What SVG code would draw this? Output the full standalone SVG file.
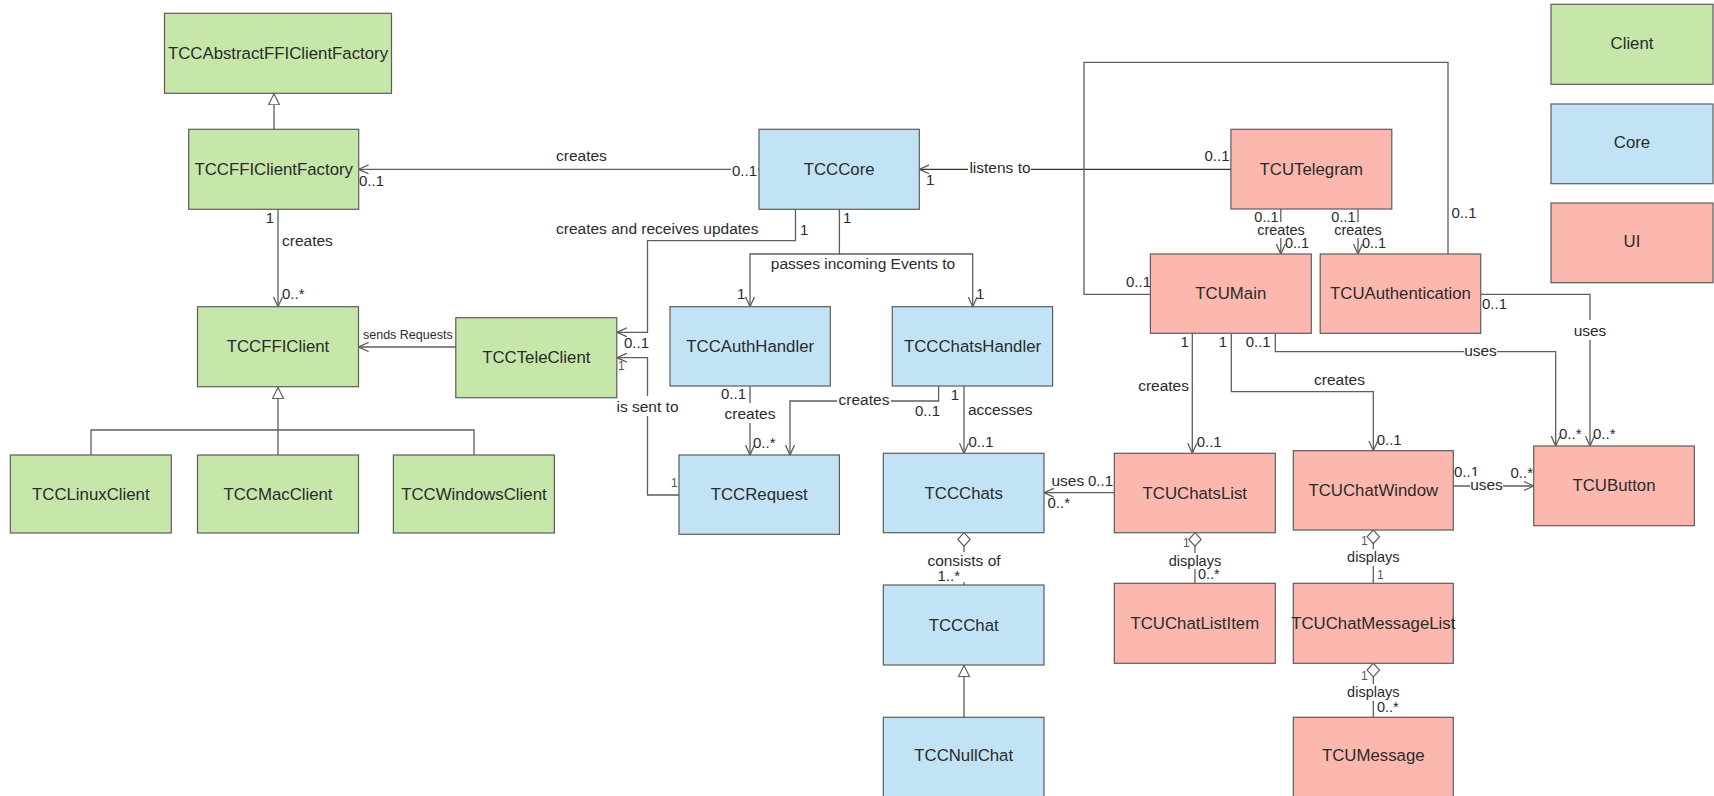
<svg xmlns="http://www.w3.org/2000/svg" width="1714" height="796" viewBox="0 0 1714 796">
  <style>
    text { font-family: "Liberation Sans", Arial, sans-serif; fill: #2b2b2b; dominant-baseline: central; }
    .box { stroke: #5c5c5c; stroke-width: 1.2; }
    .client { fill: #c6e6aa; }
    .core { fill: #c2e3f5; }
    .ui { fill: #fcb8ae; }
    .name { font-size: 16.8px; text-anchor: middle; }
    .lbl { font-size: 15.5px; }
    .mul { font-size: 15px; }
    .sm { font-size: 14.5px; }
    .xs { font-size: 12.5px; }
    .tiny { font-size: 12px; fill: #555; }
    .mid { text-anchor: middle; }
    .end { text-anchor: end; }
    .bg { fill: #ffffff; }
    .edge { fill: none; stroke: #5e5e5e; stroke-width: 1.3; }
    .dark { stroke: #333; }
  </style>
  <defs>
    <marker id="open" viewBox="0 0 10 10" refX="10" refY="5" markerWidth="10" markerHeight="10" markerUnits="userSpaceOnUse" orient="auto">
      <path d="M0,0.5 L10,5 L0,9.5" fill="none" stroke="#5e5e5e" stroke-width="1.3"/>
    </marker>
    <marker id="tri" viewBox="0 0 12 12" refX="12" refY="6" markerWidth="12" markerHeight="12" markerUnits="userSpaceOnUse" orient="auto">
      <path d="M0.5,0.5 L11.5,6 L0.5,11.5 Z" fill="#ffffff" stroke="#5e5e5e" stroke-width="1.2"/>
    </marker>
    <marker id="dia" viewBox="0 0 15 14" refX="0.5" refY="7" markerWidth="15" markerHeight="14" markerUnits="userSpaceOnUse" orient="auto">
      <path d="M0.5,7 L7.3,0.8 L14,7 L7.3,13.2 Z" fill="#ffffff" stroke="#5e5e5e" stroke-width="1.2"/>
    </marker>
  </defs>

  <rect width="1714" height="796" fill="#ffffff"/>

  <!-- connectors -->
  <g id="connectors">
    <!-- generalizations -->
    <path class="edge" d="M274,129.3 V93.3" marker-end="url(#tri)"/>
    <path class="edge" d="M278,455 V387" marker-end="url(#tri)"/>
    <path class="edge" d="M91,455 V430 H474 V455"/>
    <path class="edge" d="M964,717.3 V665" marker-end="url(#tri)"/>

    <!-- TCCFFIClientFactory creates TCCFFIClient -->
    <path class="edge" d="M278,209.3 V306.7" marker-end="url(#open)"/>
    <text class="mul end" x="274" y="217">1</text>
    <text class="lbl" x="282" y="240">creates</text>
    <text class="mul" x="282" y="293">0..*</text>

    <!-- TCCCore creates TCCFFIClientFactory -->
    <path class="edge" d="M759,169.3 H358.6" marker-end="url(#open)"/>
    <text class="lbl" x="556" y="155">creates</text>
    <text class="mul" x="359" y="180">0..1</text>
    <rect class="bg" x="731" y="161" width="27" height="18"/>
    <text class="mul" x="732" y="170">0..1</text>

    <!-- TCCTeleClient sends Requests to TCCFFIClient -->
    <path class="edge" d="M456,347 H358.6" marker-end="url(#open)"/>
    <text class="xs" x="363" y="335">sends Requests</text>

    <!-- TCCCore creates and receives updates from TCCTeleClient -->
    <path class="edge" d="M795.5,209 V240.7 H647.5 V332.3 H617" marker-end="url(#open)"/>
    <text class="lbl" x="556" y="228">creates and receives updates</text>
    <text class="mul" x="800" y="229">1</text>
    <text class="mul" x="624" y="342">0..1</text>

    <!-- TCCRequest is sent to TCCTeleClient -->
    <path class="edge" d="M679,495 H647.5 V357.7 H617" marker-end="url(#open)"/>
    <text class="tiny" x="618" y="366">1</text>
    <rect class="bg" x="615" y="396" width="66" height="20"/>
    <text class="lbl mid" x="647.5" y="406">is sent to</text>
    <text class="tiny" x="671" y="483">1</text>

    <!-- TCCCore passes incoming Events to handlers -->
    <path class="edge" d="M839.4,209 V254 H750 V306.7" marker-end="url(#open)"/>
    <path class="edge" d="M839.4,254 H972.7 V306.7" marker-end="url(#open)"/>
    <text class="mul" x="843" y="217">1</text>
    <text class="lbl mid" x="863" y="263">passes incoming Events to</text>
    <text class="mul" x="737" y="293">1</text>
    <text class="mul" x="976" y="293">1</text>

    <!-- TCCAuthHandler creates TCCRequest -->
    <path class="edge" d="M750,386 V455" marker-end="url(#open)"/>
    <text class="mul end" x="746" y="393">0..1</text>
    <rect class="bg" x="723" y="403" width="54" height="20"/>
    <text class="lbl mid" x="750" y="413">creates</text>
    <text class="mul" x="753" y="442">0..*</text>

    <!-- TCCChatsHandler creates TCCRequest -->
    <path class="edge" d="M938.6,386 V401 H790 V455" marker-end="url(#open)"/>
    <rect class="bg" x="837" y="389" width="54" height="20"/>
    <text class="lbl mid" x="864" y="399">creates</text>
    <text class="mul" x="915" y="410">0..1</text>

    <!-- TCCChatsHandler accesses TCCChats -->
    <path class="edge" d="M964,386 V453.3" marker-end="url(#open)"/>
    <text class="mul mid" x="955" y="394">1</text>
    <text class="lbl" x="968" y="409">accesses</text>
    <text class="mul" x="968.5" y="441">0..1</text>

    <!-- TCUChatsList uses TCCChats -->
    <path class="edge" d="M1114.3,492.7 H1044" marker-end="url(#open)"/>
    <text class="lbl" x="1051.5" y="480">uses</text>
    <text class="mul" x="1088" y="480">0..1</text>
    <text class="mul" x="1047.5" y="502">0..*</text>

    <!-- TCCChats consists of TCCChat -->
    <path class="edge" d="M964,532.7 V585" marker-start="url(#dia)"/>
    <rect class="bg" x="927" y="552" width="75" height="30"/>
    <text class="lbl mid" x="964" y="560">consists of</text>
    <text class="mul end" x="960" y="575.5">1..*</text>

    <!-- TCUTelegram listens to TCCCore -->
    <path class="edge dark" d="M1231,169.3 H919.3" marker-end="url(#open)"/>
    <text class="mul" x="926" y="179">1</text>
    <rect class="bg" x="968" y="158" width="63" height="20"/>
    <text class="lbl mid" x="1000" y="167">listens to</text>
    <text class="mul" x="1204.5" y="155.5">0..1</text>

    <!-- TCUMain – TCUAuthentication -->
    <path class="edge" d="M1150.4,294.3 H1084 V62.3 H1448 V254"/>
    <text class="mul" x="1126" y="281.5">0..1</text>
    <text class="mul" x="1451.5" y="212.5">0..1</text>

    <!-- TCUTelegram creates TCUMain / TCUAuthentication -->
    <path class="edge" d="M1280.8,209 V254" marker-end="url(#open)"/>
    <text class="sm end" x="1278.5" y="217">0..1</text>
    <rect class="bg" x="1256" y="222" width="50" height="16"/>
    <text class="sm mid" x="1281" y="230">creates</text>
    <text class="sm" x="1285" y="243">0..1</text>
    <path class="edge" d="M1358,209 V254" marker-end="url(#open)"/>
    <text class="sm end" x="1355.5" y="217">0..1</text>
    <rect class="bg" x="1333" y="222" width="50" height="16"/>
    <text class="sm mid" x="1358" y="230">creates</text>
    <text class="sm" x="1362" y="243">0..1</text>

    <!-- TCUMain creates TCUChatsList -->
    <path class="edge" d="M1192.3,333.3 V453.3" marker-end="url(#open)"/>
    <text class="mul mid" x="1184.7" y="341.7">1</text>
    <text class="lbl end" x="1189" y="385">creates</text>
    <text class="mul" x="1196.7" y="441.7">0..1</text>

    <!-- TCUMain creates TCUChatWindow -->
    <path class="edge" d="M1231.3,333.3 V391.7 H1373.3 V450.7" marker-end="url(#open)"/>
    <text class="mul mid" x="1222.8" y="341.7">1</text>
    <text class="lbl mid" x="1339.5" y="379">creates</text>
    <text class="mul" x="1376.7" y="439">0..1</text>

    <!-- TCUMain uses TCUButton -->
    <path class="edge" d="M1275.3,333.3 V351.7 H1555.7 V446" marker-end="url(#open)"/>
    <text class="mul" x="1245.7" y="341.7">0..1</text>
    <rect class="bg" x="1464" y="341" width="33" height="18"/>
    <text class="lbl mid" x="1480.5" y="350">uses</text>
    <text class="mul" x="1559" y="433">0..*</text>

    <!-- TCUAuthentication uses TCUButton -->
    <path class="edge" d="M1480.7,294.3 H1590 V446" marker-end="url(#open)"/>
    <text class="mul" x="1482" y="303">0..1</text>
    <rect class="bg" x="1573" y="320" width="34" height="20"/>
    <text class="lbl mid" x="1590" y="330">uses</text>
    <text class="mul" x="1593" y="433">0..*</text>

    <!-- TCUChatWindow uses TCUButton -->
    <path class="edge" d="M1453.3,486 H1533.7" marker-end="url(#open)"/>
    <text class="mul" x="1454" y="471.7">0..1</text>
    <rect class="bg" x="1470" y="476" width="33" height="17"/>
    <text class="lbl mid" x="1486.5" y="484">uses</text>
    <text class="mul end" x="1533" y="472">0..*</text>

    <!-- TCUChatsList displays TCUChatListItem -->
    <path class="edge" d="M1195,532.7 V583.3" marker-start="url(#dia)"/>
    <text class="tiny" x="1183" y="543">1</text>
    <rect class="bg" x="1168" y="553" width="54" height="16"/>
    <text class="sm mid" x="1195" y="561">displays</text>
    <text class="sm" x="1198" y="574">0..*</text>

    <!-- TCUChatWindow displays TCUChatMessageList -->
    <path class="edge" d="M1373.3,530 V583.3" marker-start="url(#dia)"/>
    <text class="tiny" x="1361" y="541">1</text>
    <rect class="bg" x="1346" y="549" width="55" height="17"/>
    <text class="sm mid" x="1373.3" y="557">displays</text>
    <text class="tiny" x="1377" y="575">1</text>

    <!-- TCUChatMessageList displays TCUMessage -->
    <path class="edge" d="M1373.3,663.3 V717.3" marker-start="url(#dia)"/>
    <text class="tiny" x="1361" y="676">1</text>
    <rect class="bg" x="1346" y="684" width="55" height="17"/>
    <text class="sm mid" x="1373.3" y="692">displays</text>
    <text class="sm" x="1377" y="707">0..*</text>
  </g>

  <!-- client classes -->
  <g id="TCCAbstractFFIClientFactory"><rect class="box client" x="164.5" y="13.3" width="227" height="80"/><text class="name" x="278" y="53.3">TCCAbstractFFIClientFactory</text></g>
  <g id="TCCFFIClientFactory"><rect class="box client" x="188.7" y="129.3" width="170" height="80"/><text class="name" x="273.7" y="169.3">TCCFFIClientFactory</text></g>
  <g id="TCCFFIClient"><rect class="box client" x="197.5" y="306.7" width="161" height="80"/><text class="name" x="278" y="346.7">TCCFFIClient</text></g>
  <g id="TCCTeleClient"><rect class="box client" x="455.8" y="317.7" width="161" height="80"/><text class="name" x="536.3" y="357.7">TCCTeleClient</text></g>
  <g id="TCCLinuxClient"><rect class="box client" x="10.3" y="455" width="161" height="78"/><text class="name" x="90.8" y="494">TCCLinuxClient</text></g>
  <g id="TCCMacClient"><rect class="box client" x="197.5" y="455" width="161" height="78"/><text class="name" x="278" y="494">TCCMacClient</text></g>
  <g id="TCCWindowsClient"><rect class="box client" x="393.4" y="455" width="161" height="78"/><text class="name" x="473.9" y="494">TCCWindowsClient</text></g>

  <!-- core classes -->
  <g id="TCCCore"><rect class="box core" x="759" y="129.3" width="160.3" height="80"/><text class="name" x="839.2" y="169.3">TCCCore</text></g>
  <g id="TCCAuthHandler"><rect class="box core" x="670" y="306.7" width="160.3" height="79.3"/><text class="name" x="750.2" y="346.3">TCCAuthHandler</text></g>
  <g id="TCCChatsHandler"><rect class="box core" x="892.3" y="306.7" width="160.3" height="79.3"/><text class="name" x="972.5" y="346.3">TCCChatsHandler</text></g>
  <g id="TCCRequest"><rect class="box core" x="679" y="455" width="160.4" height="79.3"/><text class="name" x="759.2" y="494.7">TCCRequest</text></g>
  <g id="TCCChats"><rect class="box core" x="883.3" y="453.3" width="160.7" height="79.4"/><text class="name" x="963.7" y="493">TCCChats</text></g>
  <g id="TCCChat"><rect class="box core" x="883.3" y="585" width="160.7" height="80"/><text class="name" x="963.7" y="625">TCCChat</text></g>
  <g id="TCCNullChat"><rect class="box core" x="883.3" y="717.3" width="160.7" height="80"/><text class="name" x="963.7" y="755">TCCNullChat</text></g>

  <!-- ui classes -->
  <g id="TCUTelegram"><rect class="box ui" x="1230.9" y="129.3" width="160.9" height="79.7"/><text class="name" x="1311.3" y="169.2">TCUTelegram</text></g>
  <g id="TCUMain"><rect class="box ui" x="1150.4" y="254" width="160.9" height="79.3"/><text class="name" x="1230.8" y="293.7">TCUMain</text></g>
  <g id="TCUAuthentication"><rect class="box ui" x="1320.2" y="254" width="160.5" height="79.3"/><text class="name" x="1400.5" y="293.7">TCUAuthentication</text></g>
  <g id="TCUChatsList"><rect class="box ui" x="1114.3" y="453.3" width="161" height="79.4"/><text class="name" x="1194.8" y="493">TCUChatsList</text></g>
  <g id="TCUChatListItem"><rect class="box ui" x="1114.3" y="583.3" width="161" height="80"/><text class="name" x="1194.8" y="623.3">TCUChatListItem</text></g>
  <g id="TCUChatWindow"><rect class="box ui" x="1293.3" y="450.7" width="160" height="79.3"/><text class="name" x="1373.3" y="490.3">TCUChatWindow</text></g>
  <g id="TCUChatMessageList"><rect class="box ui" x="1293.3" y="583.3" width="160" height="80"/><text class="name" x="1373.3" y="623.3">TCUChatMessageList</text></g>
  <g id="TCUMessage"><rect class="box ui" x="1293.3" y="717.3" width="160" height="80"/><text class="name" x="1373.3" y="755">TCUMessage</text></g>
  <g id="TCUButton"><rect class="box ui" x="1533.7" y="446" width="160.6" height="79.7"/><text class="name" x="1614" y="485.8">TCUButton</text></g>

  <!-- legend -->
  <g id="legend-client"><rect class="box client" x="1551" y="4.3" width="162" height="80"/><text class="name" x="1632" y="43">Client</text></g>
  <g id="legend-core"><rect class="box core" x="1551" y="104" width="162" height="79.7"/><text class="name" x="1632" y="142">Core</text></g>
  <g id="legend-ui"><rect class="box ui" x="1551" y="203" width="162" height="79.7"/><text class="name" x="1632" y="241">UI</text></g>
</svg>
